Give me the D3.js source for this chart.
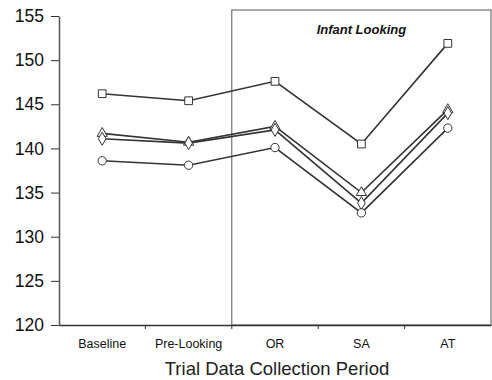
<!DOCTYPE html>
<html>
<head>
<meta charset="utf-8">
<script src="https://cdn.jsdelivr.net/npm/d3@7"></script>
<style>
  body { margin: 0; background: #fff; }
  svg text { font-family: "Liberation Sans", Arial, sans-serif; }
</style>
</head>
<body>
<div id="chart"></div>
<script>
// data
var periods = ["Baseline", "Pre-Looking", "OR", "SA", "AT"];
var squareValues = [146.2, 145.4, 147.6, 140.5, 151.9];
var triangleValues = [141.7, 140.7, 142.5, 135.0, 144.4];
var diamondValues = [141.1, 140.6, 142.1, 133.8, 144.0];
var circleValues = [138.6, 138.1, 140.1, 132.7, 142.3];
var yTicks = [120, 125, 130, 135, 140, 145, 150, 155];

var series = [
  {symbol: d3.symbolSquare, size: 60, values: squareValues},
  {symbol: d3.symbolTriangle, size: 45, values: triangleValues},
  {symbol: d3.symbolDiamond, size: 50, values: diamondValues},
  {symbol: d3.symbolCircle, size: 55, values: circleValues}
];

var width = 492, height = 380;
var margin = {top: 16, right: 1, bottom: 55, left: 59};
var innerW = width - margin.left - margin.right;
var innerH = height - margin.top - margin.bottom;
var ink = "#333";

var svg = d3.select("#chart").append("svg")
  .attr("width", width)
  .attr("height", height)
  .append("g")
  .attr("transform", `translate(${margin.left}, ${margin.top})`);

var x = d3.scaleBand().domain(periods).range([0, innerW]);
var y = d3.scaleLinear().domain([120, 155]).range([innerH, 0]);

// "Infant Looking" box
var boxTop = y(155) - 6;
svg.append("rect")
  .attr("x", x("OR"))
  .attr("y", boxTop)
  .attr("width", innerW - x("OR"))
  .attr("height", innerH - boxTop)
  .attr("fill", "none")
  .attr("stroke", "#555")
  .attr("stroke-width", 1);

svg.append("text")
  .attr("x", x("SA") + x.bandwidth() / 2)
  .attr("y", boxTop + 24)
  .attr("text-anchor", "middle")
  .attr("font-size", 13)
  .attr("font-style", "italic")
  .attr("font-weight", "bold")
  .attr("fill", "#111")
  .text("Infant Looking");

// Y axis
var yAxis = svg.append("g")
  .call(d3.axisLeft(y).tickValues(yTicks).tickSize(8).tickSizeOuter(0));
yAxis.selectAll("text").attr("font-size", 17.5).attr("fill", "#111").attr("x", -15);
yAxis.selectAll("line").attr("stroke", ink);
yAxis.select(".domain").attr("stroke", "#555").attr("stroke-width", 1.5);

// X axis
var xAxis = svg.append("g")
  .attr("transform", `translate(0, ${innerH})`)
  .call(d3.axisBottom(x).tickSize(0).tickSizeOuter(0));
xAxis.selectAll("text").attr("font-size", 12.5).attr("fill", "#111").attr("dy", "1.6em");
xAxis.select(".domain").attr("stroke", ink).attr("stroke-width", 1.5);
// ticks sit between categories
svg.append("g")
  .selectAll("line")
  .data(periods.slice(1))
  .join("line")
  .attr("x1", d => x(d))
  .attr("x2", d => x(d))
  .attr("y1", innerH)
  .attr("y2", innerH + 4)
  .attr("stroke", ink);

svg.append("text")
  .attr("x", 218)
  .attr("y", innerH + 50)
  .attr("text-anchor", "middle")
  .attr("font-size", 18.5)
  .attr("fill", "#222")
  .text("Trial Data Collection Period");

// lines + markers
var line = d3.line()
  .x((d, i) => x(periods[i]) + x.bandwidth() / 2)
  .y(d => y(d));

series.forEach(function(s) {
  svg.append("path")
    .datum(s.values)
    .attr("d", line)
    .attr("fill", "none")
    .attr("stroke", ink)
    .attr("stroke-width", 1.6);
});

series.forEach(function(s) {
  svg.append("g")
    .selectAll("path")
    .data(s.values)
    .join("path")
    .attr("transform", (d, i) => `translate(${x(periods[i]) + x.bandwidth() / 2}, ${y(d)})`)
    .attr("d", d3.symbol().type(s.symbol).size(s.size))
    .attr("fill", "#fff")
    .attr("stroke", ink)
    .attr("stroke-width", 1);
});
</script>
</body>
</html>
